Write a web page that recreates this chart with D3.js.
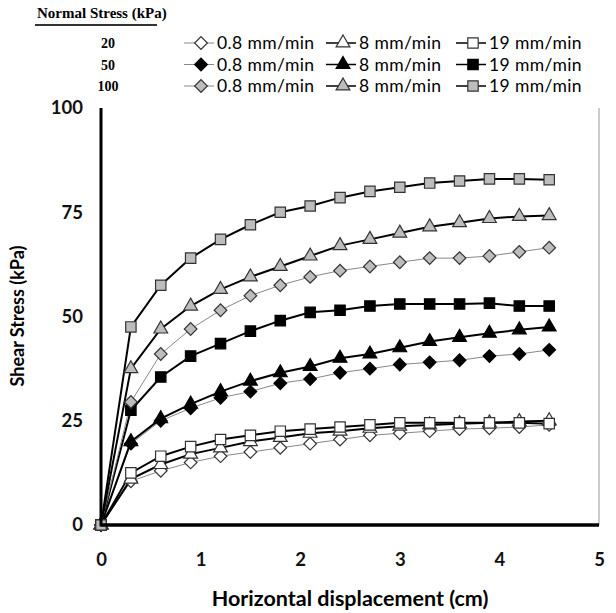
<!DOCTYPE html>
<html>
<head>
<meta charset="utf-8">
<script src="https://cdn.jsdelivr.net/npm/d3@7"></script>
<style>
  body { margin: 0; background: #fff; }
  svg { font-family: Lato, "Open Sans", sans-serif; }
</style>
</head>
<body>
<div id="chart"></div>
<script>
// horizontal displacement (cm)
const disp = [0, 0.3, 0.6, 0.9, 1.2, 1.5, 1.8, 2.1, 2.4, 2.7, 3.0, 3.3, 3.6, 3.9, 4.2, 4.5];

// shear stress (kPa) for each normal stress / rate
const s20_r08 = [0, 10.5, 13, 15, 16.5, 17.5, 18.5, 19.5, 20.5, 21.5, 22, 22.5, 23, 23.2, 23.5, 24];
const s20_r8  = [0, 11, 14.5, 17, 18.5, 20, 21, 22, 22.5, 23.2, 23.7, 24, 24.3, 24.5, 24.8, 25];
const s20_r19 = [0, 12.5, 16.5, 18.8, 20.5, 21.5, 22.5, 23, 23.5, 24, 24.5, 24.5, 24.5, 24.5, 24.5, 24.3];
const s50_r08 = [0, 19.5, 25, 28, 30.5, 32, 34, 35, 36.5, 37.5, 38.5, 39, 39.5, 40.5, 41, 42];
const s50_r8  = [0, 20, 25.5, 29, 32, 34.5, 36.5, 38, 40, 41, 42.5, 44, 45, 46, 46.8, 47.5];
const s50_r19 = [0, 27.5, 35.5, 40.5, 43.5, 46.5, 49, 51, 51.5, 52.5, 53, 53, 53, 53.2, 52.5, 52.5];
const s100_r08 = [0, 29.5, 41, 47, 51.5, 55, 57.5, 59.5, 61, 62, 63, 64, 64, 64.5, 65.5, 66.5];
const s100_r8  = [0, 37.5, 47, 52.5, 56.5, 59.5, 62, 64.5, 67, 68.5, 70, 71.5, 72.5, 73.5, 74, 74.2];
const s100_r19 = [0, 47.5, 57.5, 64, 68.5, 72, 75, 76.5, 78.5, 80, 81, 82, 82.5, 83, 83, 82.8];

const normalStress = ["20", "50", "100"];
const rates = ["0.8 mm/min", "8 mm/min", "19 mm/min"];
const xTicks = [0, 1, 2, 3, 4, 5];
const yTicks = [0, 25, 50, 75, 100];

const svgWidth = 616, svgHeight = 613;
const fills = ["#ffffff", "#000000", "#bdbdbd"];
const shapes = ["diamond", "triangle", "square"];

const series = [
    [s20_r08, s20_r8, s20_r19],
    [s50_r08, s50_r8, s50_r19],
    [s100_r08, s100_r8, s100_r19]
];

var x = d3.scaleLinear().domain([0, 5]).range([101, 599]);
var y = d3.scaleLinear().domain([0, 100]).range([525, 108]);

var svg = d3.select("#chart")
    .append("svg")
    .attr("width", svgWidth)
    .attr("height", svgHeight);

function symbolPath(shape) {
    if (shape == "triangle") return d3.symbol(d3.symbolTriangle, 82)();
    // diamond is a square turned 45 degrees
    return d3.symbol(d3.symbolSquare, shape == "square" ? 108 : 80)();
}

function add_marker(g, shape, fill) {
    g.append("path")
        .attr("d", symbolPath(shape))
        .attr("transform", shape == "diamond" ? "rotate(45)" : null)
        .attr("fill", fill)
        .attr("stroke", fill == "#000000" ? "#000" : "#333")
        .attr("stroke-width", 1.2);
}

// lines first, then markers
function draw_series(vals, si, ri) {
    let pts = disp.map((d, i) => [d, vals[i]]);
    let thin = ri == 0;
    svg.append("path")
        .datum(pts)
        .attr("fill", "none")
        .attr("stroke", thin ? "#888" : "#000")
        .attr("stroke-width", thin ? 1 : 2)
        .attr("d", d3.line().x(d => x(d[0])).y(d => y(d[1])));
}

series.forEach((row, si) => row.forEach((vals, ri) => draw_series(vals, si, ri)));

series.forEach((row, si) => row.forEach((vals, ri) => {
    disp.forEach((d, i) => {
        let g = svg.append("g")
            .attr("transform", `translate(${x(d)},${y(vals[i])})`);
        add_marker(g, shapes[ri], fills[si]);
    });
}));

// axes
svg.append("line")
    .attr("x1", x(5)).attr("x2", x(5))
    .attr("y1", y(100)).attr("y2", y(0))
    .attr("stroke", "#999").attr("stroke-width", 1);
svg.append("line")
    .attr("x1", x(0)).attr("x2", x(0))
    .attr("y1", y(100)).attr("y2", y(0) + 1.5)
    .attr("stroke", "#000").attr("stroke-width", 3);
svg.append("line")
    .attr("x1", x(0)).attr("x2", x(5))
    .attr("y1", y(0)).attr("y2", y(0))
    .attr("stroke", "#000").attr("stroke-width", 3.5);

var xAxis = svg.append("g")
    .attr("transform", `translate(0, ${y(0)})`)
    .call(d3.axisBottom(x).tickValues(xTicks).tickFormat(d3.format("d")).tickSize(0).tickPadding(28));
var yAxis = svg.append("g")
    .attr("transform", `translate(${x(0)}, 0)`)
    .call(d3.axisLeft(y).tickValues(yTicks).tickFormat(d3.format("d")).tickSize(0).tickPadding(18));
[xAxis, yAxis].forEach(a => {
    a.select(".domain").remove();
    a.selectAll("text")
        .style("font-family", "Lato, sans-serif")
        .style("font-size", "18.5px")
        .style("font-weight", "bold")
        .attr("fill", "#111");
});

svg.append("text")
    .text("Horizontal displacement (cm)")
    .attr("x", 350).attr("y", 606)
    .style("text-anchor", "middle")
    .style("font-size", "21.5px")
    .style("font-weight", "bold");
svg.append("text")
    .text("Shear Stress (kPa)")
    .attr("transform", "translate(24, 316) rotate(-90)")
    .style("text-anchor", "middle")
    .style("font-size", "18px")
    .style("font-weight", "bold");

// legend
var legend = svg.append("g");
legend.append("text")
    .text("Normal Stress (kPa)")
    .attr("x", 37).attr("y", 18)
    .style("font-family", "'Liberation Serif', serif")
    .style("font-size", "15px")
    .style("font-weight", "bold");
legend.append("line")
    .attr("x1", 35).attr("x2", 157)
    .attr("y1", 25).attr("y2", 25)
    .attr("stroke", "#333").attr("stroke-width", 2);

const rowY = [43, 64.5, 86];
const markX = [201, 343, 473];
normalStress.forEach((ns, si) => {
    legend.append("text")
        .text(ns)
        .attr("x", 108).attr("y", rowY[si] + 5)
        .style("text-anchor", "middle")
        .style("font-family", "'Liberation Serif', serif")
        .style("font-size", "14px")
        .style("font-weight", "bold");
    rates.forEach((r, ri) => {
        let mx = markX[ri];
        legend.append("line")
            .attr("x1", mx - 17).attr("x2", mx + 13)
            .attr("y1", rowY[si]).attr("y2", rowY[si])
            .attr("stroke", ri == 0 ? "#888" : "#000")
            .attr("stroke-width", ri == 0 ? 1 : 1.5);
        let g = legend.append("g")
            .attr("transform", `translate(${mx},${rowY[si]})`);
        add_marker(g, shapes[ri], fills[si]);
        legend.append("text")
            .text(r)
            .attr("x", mx + 16).attr("y", rowY[si] + 6)
            .style("font-size", "17.5px")
            .style("letter-spacing", "0.4px");
    });
});
</script>
</body>
</html>
